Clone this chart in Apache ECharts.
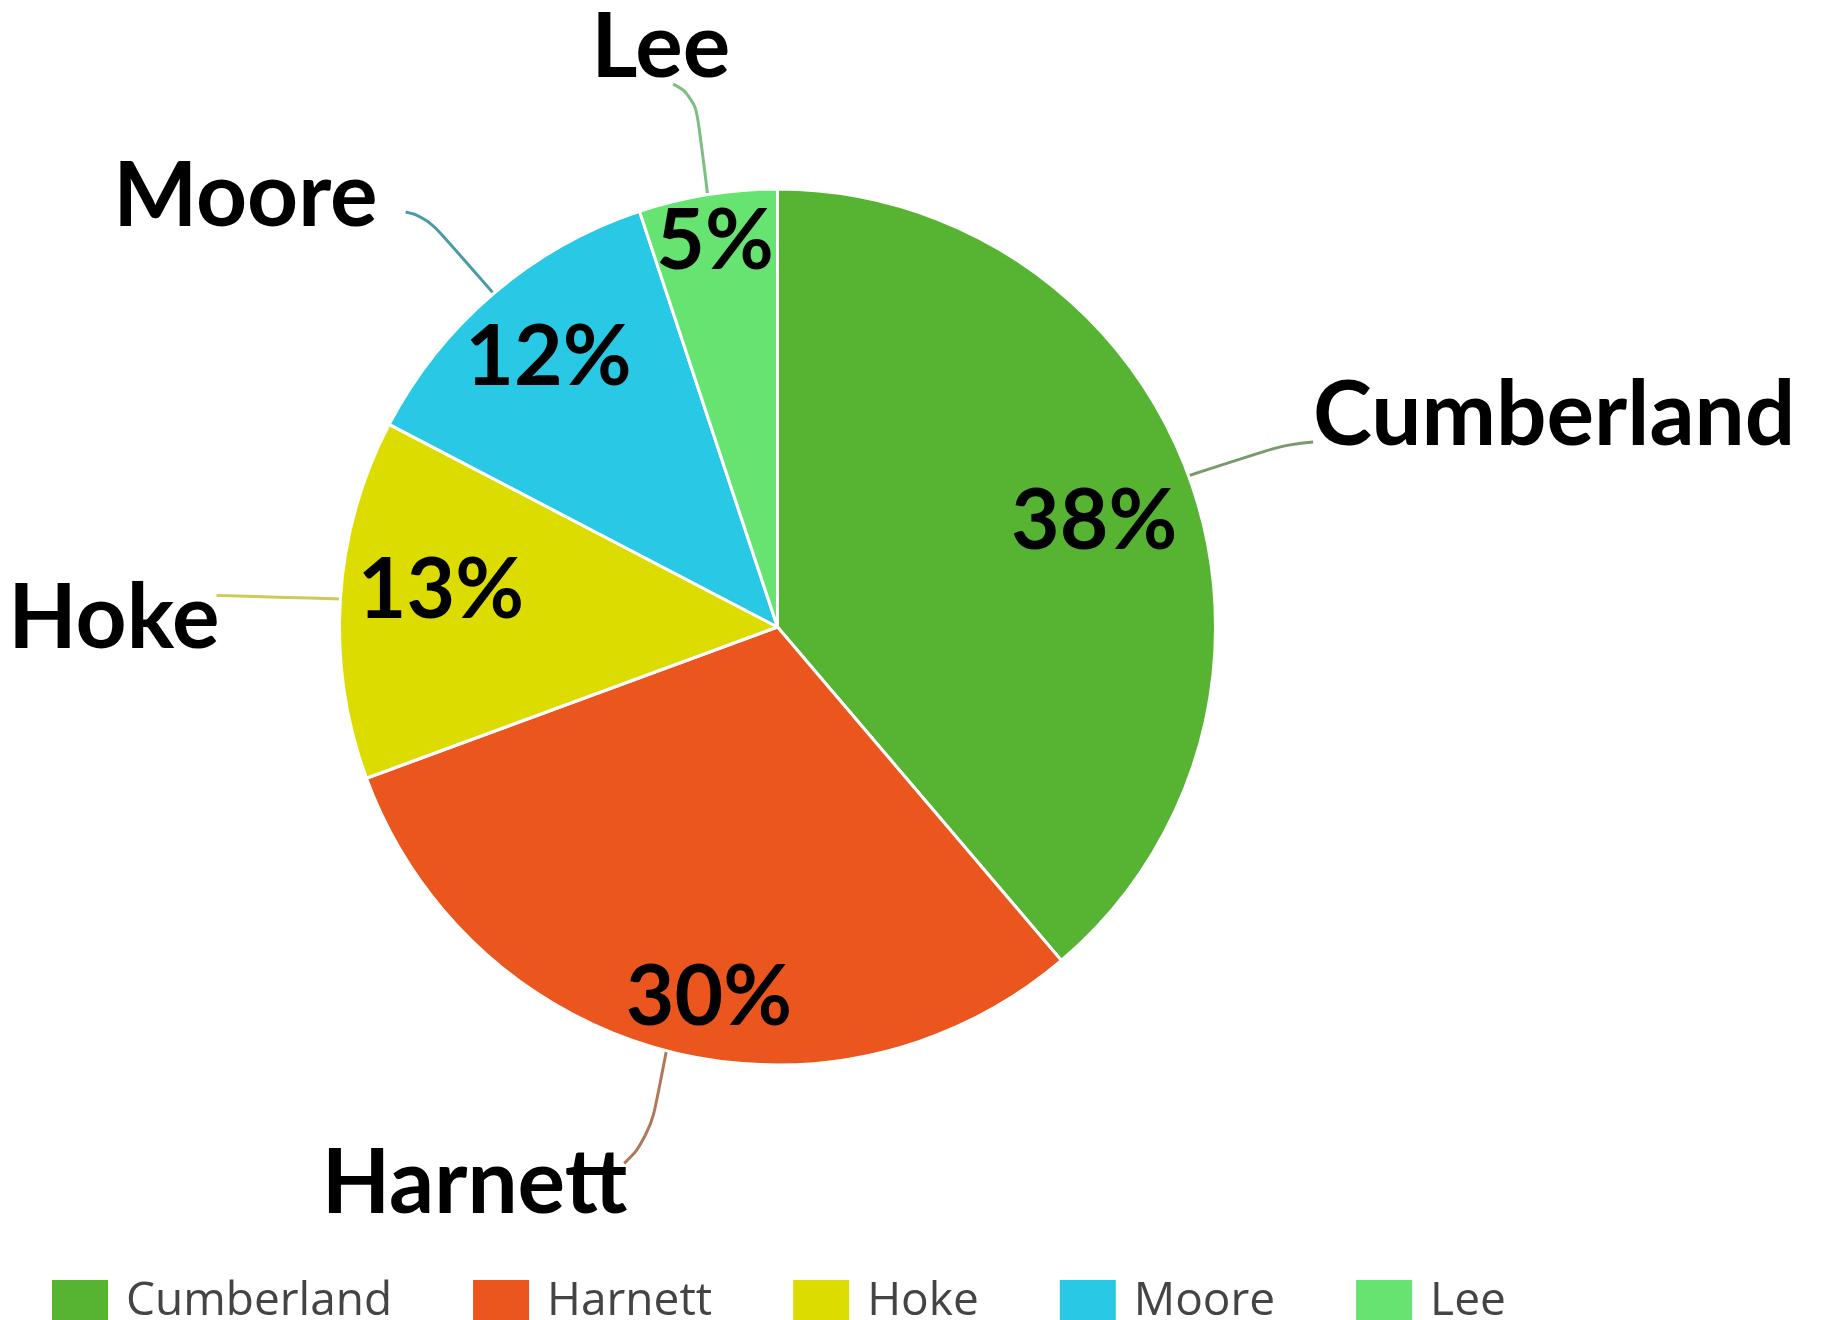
<!DOCTYPE html>
<html>
<head>
<meta charset="utf-8">
<script src="https://cdn.jsdelivr.net/npm/echarts@6/dist/echarts.min.js"></script>
<style>
html,body{margin:0;padding:0;background:#fff;}
#chart{width:1821px;height:1320px;}
</style>
</head>
<body>
<div id="chart"></div>
<script>
// ---- data ----
const categories = ['Cumberland', 'Harnett', 'Hoke', 'Moore', 'Lee'];
const shares = [38, 30, 13, 12, 5];

// ---- styles ----
const sliceColors = ['#56b432', '#ea561d', '#dcdc00', '#29c8e4', '#66e370'];
const lineColors = ['#7a9a6a', '#b0785a', '#cccc55', '#4a9aa8', '#7cbf80'];
const labelOffsets = [[42, -46], [16, 95], [-36, 23], [-45, -66], [74, -107]];
// label-line end on the moved label: [fraction of width, px x, px y from middle]
const lineAnchors = [[0, 0, 26], [1, -3, -21], [1, -3, -24], [1, 28, 15], [0.59, 0, 36]];
// bend point as fraction from end toward start: [x, y]
const lineBends = [[0.2, 0.05], [0.6, 0.22], [0.5, 0.5], [0.24, 0.06], [0.65, 0.11]];
const pctOffsets = [[-15, 17], [21, 29], [16, -13], [0, 0], [-6, -36]];
const CX = 777.5, CY = 627, R = 438;

const total = shares.reduce((s, v) => s + v, 0);
function edgePoint(i) {
  let cum = 0;
  for (let k = 0; k < i; k++) cum += shares[k];
  const ang = (cum + shares[i] / 2) / total * Math.PI * 2;
  return [CX + R * Math.sin(ang), CY - R * Math.cos(ang)];
}

const chart = echarts.init(document.getElementById('chart'), null, {renderer: 'canvas'});

const mainData = categories.map((name, i) => ({
  name: name,
  value: shares[i],
  itemStyle: {color: sliceColors[i]},
  labelLine: {lineStyle: {color: lineColors[i]}}
}));
const overlayData = categories.map((name, i) => ({name: name, value: shares[i]}));

chart.setOption({
  animation: false,
  backgroundColor: '#ffffff',
  legend: {
    data: categories,
    left: 45,
    top: 1273,
    itemWidth: 58,
    itemHeight: 45,
    itemGap: 79,
    icon: 'rect',
    textStyle: {fontFamily: 'Open Sans', fontSize: 46, color: '#444', padding: [0, 0, 0, 12]}
  },
  series: [
    {
      type: 'pie',
      center: [CX, CY],
      radius: R,
      startAngle: 90,
      clockwise: true,
      avoidLabelOverlap: false,
      data: mainData,
      itemStyle: {borderColor: '#fff', borderWidth: 3},
      label: {
        show: true,
        position: 'outside',
        formatter: '{b}',
        fontFamily: 'Lato',
        fontWeight: 'bold',
        fontSize: 89,
        color: '#000'
      },
      labelLine: {show: true, length: 40, length2: 40, smooth: 0.5, lineStyle: {width: 3}},
      labelLayout: function (p) {
        const i = p.dataIndex;
        const o = labelOffsets[i];
        const r = p.labelRect;
        const nx = r.x + o[0], ny = r.y + o[1];
        const a = lineAnchors[i];
        const end = [nx + a[0] * r.width + a[1], ny + r.height / 2 + a[2]];
        const start = (p.labelLinePoints && p.labelLinePoints[0]) ? p.labelLinePoints[0].slice() : edgePoint(i);
        const b = lineBends[i];
        const mid = [end[0] + (start[0] - end[0]) * b[0], end[1] + (start[1] - end[1]) * b[1]];
        return {dx: o[0], dy: o[1], labelLinePoints: [start, mid, end]};
      },
      emphasis: {disabled: true}
    },
    {
      type: 'pie',
      center: [CX, CY],
      radius: [R * 0.6, R],
      startAngle: 90,
      clockwise: true,
      silent: true,
      data: overlayData,
      itemStyle: {color: 'rgba(0,0,0,0)', borderWidth: 0},
      label: {
        show: true,
        position: 'inside',
        formatter: '{c}%',
        fontFamily: 'Lato',
        fontWeight: 'bold',
        fontSize: 84,
        color: '#000'
      },
      labelLine: {show: false},
      labelLayout: function (p) {
        const o = pctOffsets[p.dataIndex];
        return {dx: o[0], dy: o[1]};
      },
      emphasis: {disabled: true}
    }
  ]
});
</script>
</body>
</html>
